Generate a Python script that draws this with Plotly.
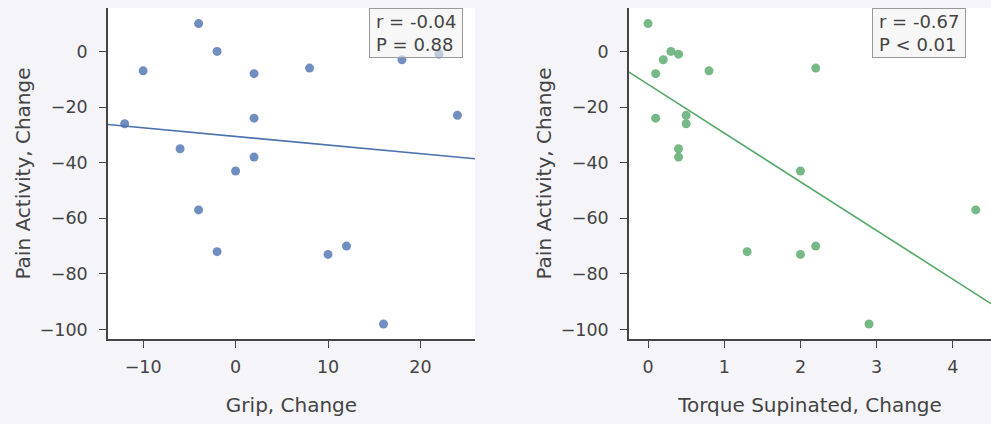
import numpy as np
import plotly.graph_objects as go

# Data
pain_change = [10, 0, -1, -3, -8, -7, -6, -24, -23, -26, -35, -38, -43, -57, -72, -73, -70, -98]
grip_change = [-4, -2, 22, 18, 2, -10, 8, 2, 24, -12, -6, 2, 0, -4, -2, 10, 12, 16]
torque_change = [0, 0.3, 0.4, 0.2, 0.1, 0.8, 2.2, 0.1, 0.5, 0.5, 0.4, 0.4, 2.0, 4.3, 1.3, 2.0, 2.2, 2.9]
stats_grip = "r = -0.04<br>P = 0.88"
stats_torque = "r = -0.67<br>P < 0.01"
x_ticks_grip = [-10, 0, 10, 20]
x_ticks_torque = [0, 1, 2, 3, 4]
y_ticks = [0, -20, -40, -60, -80, -100]

BLUE = "#4c72b0"
GREEN = "#55a868"
TXT = "#444444"
FONT = "DejaVu Sans"

W, H = 991, 424
ML, MT, MB, MR = 108, 8, 85, 0
PW = W - ML - MR

def px2paper(px):
    return (px - ML) / PW

xr_grip = [-13.8, 25.9]
xr_torque = [-0.25, 4.5]
yr = [-103.4, 15.6]

fig = go.Figure()

def add_panel(xs, color, xaxis, yaxis, xrange):
    fig.add_trace(go.Scatter(x=xs, y=pain_change, mode="markers",
                             marker=dict(size=9, color=color, opacity=0.8, line=dict(width=0)),
                             xaxis=xaxis, yaxis=yaxis, showlegend=False, hoverinfo="skip"))
    slope, intercept = np.polyfit(np.array(xs, float), np.array(pain_change, float), 1)
    lx = np.array(xrange)
    fig.add_trace(go.Scatter(x=lx, y=slope * lx + intercept, mode="lines",
                             line=dict(color=color, width=1.6),
                             xaxis=xaxis, yaxis=yaxis, showlegend=False, hoverinfo="skip"))

add_panel(grip_change, BLUE, "x", "y", xr_grip)
add_panel(torque_change, GREEN, "x2", "y2", xr_torque)

axis_common = dict(showline=True, linecolor=TXT, linewidth=1.5, ticks="outside",
                   ticklen=7, tickwidth=1.2, tickcolor=TXT, showgrid=False, zeroline=False,
                   tickfont=dict(family=FONT, size=17.5, color=TXT),
                   title_font=dict(family=FONT, size=20, color=TXT), mirror=False)

fig.update_layout(
    width=W, height=H,
    margin=dict(l=ML, r=MR, t=MT, b=MB),
    paper_bgcolor="#f4f4f9", plot_bgcolor="#ffffff",
    font=dict(family=FONT, color=TXT),
    xaxis=dict(domain=[0, px2paper(475)], range=xr_grip, tickvals=x_ticks_grip,
               title=dict(text="Grip, Change", standoff=22), anchor="y",
               ticklabelstandoff=4, **axis_common),
    yaxis=dict(domain=[0, 1], range=yr, tickvals=y_ticks,
               title=dict(text="Pain Activity, Change", standoff=4), anchor="x",
               ticklabelstandoff=8, **axis_common),
    xaxis2=dict(domain=[px2paper(629), 1], range=xr_torque, tickvals=x_ticks_torque,
                title=dict(text="Torque Supinated, Change", standoff=22), anchor="y2",
                ticklabelstandoff=4, **axis_common),
    yaxis2=dict(domain=[0, 1], range=yr, tickvals=y_ticks,
                title=dict(text="Pain Activity, Change", standoff=4), anchor="x2",
                ticklabelstandoff=8, **axis_common),
)

for txt, right_px in [(stats_grip, 463.3), (stats_torque, 966.0)]:
    fig.add_annotation(text=txt, xref="paper", yref="paper", x=px2paper(right_px), y=1.0,
                       xanchor="right", yanchor="top", align="left", showarrow=False,
                       width=80, height=36,
                       font=dict(family=FONT, size=18, color=TXT),
                       bgcolor="rgba(242,242,242,0.6)", bordercolor="#9a9a9a",
                       borderwidth=1, borderpad=6)

fig.write_html("out.html", config={"displayModeBar": False},
               post_script="document.body.style.margin='0';document.body.style.overflow='hidden';")
